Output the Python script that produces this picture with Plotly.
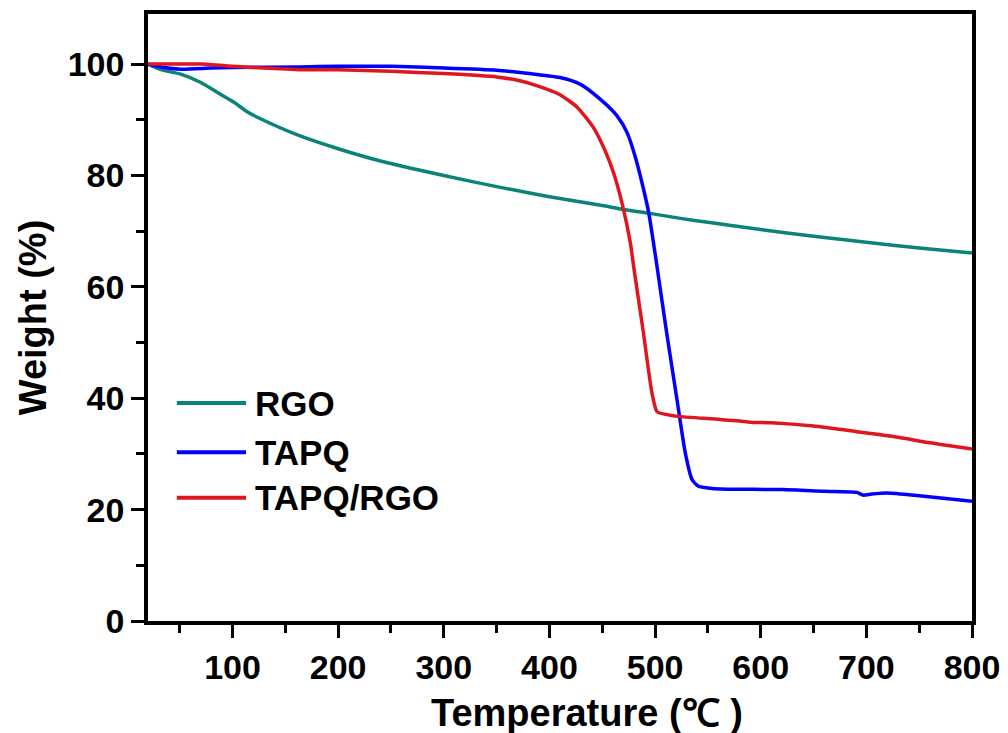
import plotly.graph_objects as go

# Thermogravimetric curves: temperature (°C) vs remaining weight (%)
rgo_t = [20, 32, 51, 70, 85, 101, 115, 133, 164, 200, 240, 300, 350, 400, 450, 470,
         495, 524, 550, 600, 650, 700, 750, 800]
rgo_w = [100, 99.0, 98.2, 96.7, 95.0, 93.2, 91.3, 89.6, 87.1, 84.8, 82.6, 80.0, 78.0,
         76.2, 74.6, 73.9, 73.2, 72.3, 71.6, 70.3, 69.1, 68.0, 67.0, 66.1]

tapq_t = [20, 35, 51, 80, 100, 164, 200, 250, 300, 350, 372, 390, 410, 429, 448, 464,
          473.5, 481, 487.6, 494, 501.8, 511, 520.8, 528.6, 535, 541, 550, 562, 621,
          660, 691, 697, 705, 720, 750, 800]
tapq_w = [100, 99.4, 99.1, 99.3, 99.4, 99.5, 99.6, 99.6, 99.3, 98.9, 98.5, 98.1, 97.6,
          96.4, 93.7, 90.7, 87.7, 83.5, 78.7, 73.3, 63.7, 51.7, 39.7, 30.2, 25.4, 24.2,
          23.9, 23.7, 23.6, 23.3, 23.1, 22.6, 22.8, 23.0, 22.5, 21.5]

comp_t = [20, 50, 70, 100, 164, 200, 250, 300, 350, 372, 390, 410, 426, 442, 453, 461,
          469, 476.6, 479.7, 489, 497, 501.8, 510, 524, 562, 590, 610, 650, 691, 730,
          760, 800]
comp_w = [100, 100, 100, 99.6, 99.0, 99.0, 98.7, 98.3, 97.7, 97.0, 96.0, 94.5, 92.3,
          88.5, 84.3, 80.3, 74.8, 67.9, 63.7, 51.7, 41.0, 37.6, 37.1, 36.7, 36.2, 35.7,
          35.6, 35.0, 34.0, 33.0, 32.0, 30.9]

names = ["RGO", "TAPQ", "TAPQ/RGO"]
colors = ["#0a8478", "#0000ff", "#e0161e"]
series = [(rgo_t, rgo_w), (tapq_t, tapq_w), (comp_t, comp_w)]

FONT = "Liberation Sans, Arial, sans-serif"

fig = go.Figure()
for name, col, (t, w) in zip(names, colors, series):
    fig.add_trace(go.Scatter(x=t, y=w, mode="lines", name=name,
                             line=dict(color=col, width=3.5, shape="spline", smoothing=0.6),
                             showlegend=False))

# Legend drawn as short line samples with labels
leg_y = [0.359, 0.278, 0.203]
for name, col, yy in zip(names, colors, leg_y):
    fig.add_shape(type="line", xref="paper", yref="paper",
                  x0=0.035, x1=0.119, y0=yy, y1=yy,
                  line=dict(color=col, width=4))
    fig.add_annotation(xref="paper", yref="paper", x=0.128, y=yy, text=name,
                       showarrow=False, xanchor="left", yanchor="middle",
                       font=dict(family=FONT, size=35, color="black", weight="bold"))

# X-axis title placed as a centred label below the tick labels
fig.add_annotation(xref="paper", yref="paper", x=0.533, y=-0.152,
                   text="Temperature (℃ )", showarrow=False,
                   xanchor="center", yanchor="middle",
                   font=dict(family=FONT, size=38, color="black", weight="bold"))

axis_common = dict(
    showline=True, linecolor="black", linewidth=3.5, mirror=True,
    ticks="outside", ticklen=13, tickwidth=3, tickcolor="black",
    showgrid=False, zeroline=False, automargin=False,
    tickfont=dict(family=FONT, size=34, color="black", weight="bold"),
)

fig.update_xaxes(range=[20, 800], tick0=0, dtick=100,
                 minor=dict(ticks="outside", ticklen=8, tickwidth=3, tickcolor="black",
                            dtick=50, tick0=0, showgrid=False),
                 **axis_common)
fig.update_yaxes(range=[0, 109], tick0=0, dtick=20,
                 minor=dict(ticks="outside", ticklen=8, tickwidth=3, tickcolor="black",
                            dtick=10, tick0=0, showgrid=False),
                 title=dict(text="Weight (%)", standoff=10,
                            font=dict(family=FONT, size=38, color="black", weight="bold")),
                 **axis_common)

fig.update_layout(
    width=1008, height=733,
    margin=dict(l=148, r=36, t=14, b=112),
    plot_bgcolor="white", paper_bgcolor="white",
)

fig.write_html("out.html")
